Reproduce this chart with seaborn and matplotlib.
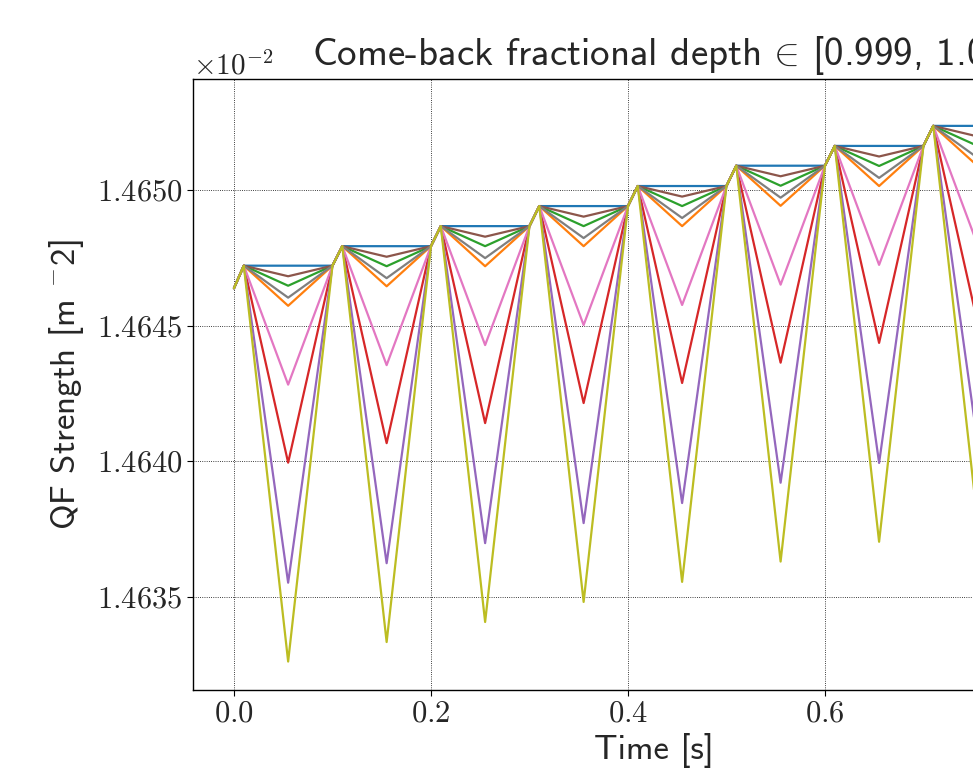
import numpy as np
import pandas as pd
import matplotlib
matplotlib.use("Agg")
import matplotlib.pyplot as plt
import seaborn as sns
from matplotlib.ticker import ScalarFormatter

# ---------------- data (values in units of 1e-2 m^-2) ----------------
times = [0.0, 0.01, 0.055, 0.1, 0.11, 0.155, 0.2, 0.21, 0.255, 0.3, 0.31, 0.355,
         0.4, 0.41, 0.455, 0.5, 0.51, 0.555, 0.6, 0.61, 0.655, 0.7, 0.71, 0.755,
         0.8, 0.81, 0.855, 0.9]
start_value = 1.464638
levels = [1.464721, 1.464793, 1.464867, 1.464941, 1.465015, 1.465090, 1.465163,
          1.465237, 1.465311]

series_names = ["1.00000", "0.99990", "0.99995", "0.99950", "0.99920",
                "0.99997", "0.99970", "0.99992", "0.99900"]
series_colors = ["#1f77b4", "#ff7f0e", "#2ca02c", "#d62728", "#9467bd",
                 "#8c564b", "#e377c2", "#7f7f7f", "#bcbd22"]

dip_blue   = [1.464721, 1.464793, 1.464867, 1.464941, 1.465015, 1.465090, 1.465163, 1.465237, 1.465311]
dip_orange = [1.464573, 1.464645, 1.464719, 1.464793, 1.464867, 1.464942, 1.465015, 1.465089, 1.465163]
dip_green  = [1.464647, 1.464719, 1.464793, 1.464867, 1.464941, 1.465016, 1.465089, 1.465163, 1.465237]
dip_red    = [1.463994, 1.464066, 1.464140, 1.464214, 1.464288, 1.464363, 1.464436, 1.464510, 1.464584]
dip_purple = [1.463551, 1.463623, 1.463697, 1.463771, 1.463845, 1.463920, 1.463993, 1.464067, 1.464141]
dip_brown  = [1.464682, 1.464754, 1.464828, 1.464902, 1.464976, 1.465051, 1.465124, 1.465198, 1.465272]
dip_pink   = [1.464282, 1.464354, 1.464428, 1.464502, 1.464576, 1.464651, 1.464724, 1.464798, 1.464872]
dip_gray   = [1.464603, 1.464675, 1.464749, 1.464823, 1.464897, 1.464972, 1.465045, 1.465119, 1.465193]
dip_olive  = [1.463260, 1.463332, 1.463406, 1.463480, 1.463554, 1.463629, 1.463702, 1.463776, 1.463850]

all_dips = [dip_blue, dip_orange, dip_green, dip_red, dip_purple,
            dip_brown, dip_pink, dip_gray, dip_olive]

x_ticks = [0.0, 0.2, 0.4, 0.6]
y_ticks = [1.4635, 1.4640, 1.4645, 1.4650]

# ---------------- build long table ----------------
rows = []
for name, dips in zip(series_names, all_dips):
    vals = [start_value]
    for lvl, d in zip(levels, dips):
        vals += [lvl, d, lvl]
    for t, v in zip(times, vals):
        rows.append({"t": t, "v": v * 1e-2, "depth": name})
df = pd.DataFrame(rows)

# ---------------- style ----------------
sns.set_style("white")
plt.rcParams["font.family"] = ["cmr10"]
plt.rcParams["mathtext.fontset"] = "cm"
plt.rcParams["axes.unicode_minus"] = False
plt.rcParams["axes.formatter.use_mathtext"] = True

fig = plt.figure(figsize=(9.73, 7.73), dpi=100)
W, H = 973, 773
ax_left, ax_right, ax_top, ax_bottom = 193, 1114, 79, 690
ax = fig.add_axes([ax_left / W, (H - ax_bottom) / H,
                   (ax_right - ax_left) / W, (ax_bottom - ax_top) / H])

sns.lineplot(data=df, x="t", y="v", hue="depth", hue_order=series_names,
             palette=dict(zip(series_names, series_colors)), legend=False,
             estimator=None, sort=False, linewidth=1.6, ax=ax)

ax.set_xlim(-0.0416, 0.8935)
ax.set_ylim(0.01463155, 0.01465410)
ax.set_xticks(x_ticks)
ax.set_yticks([v * 1e-2 for v in y_ticks])

fmt = ScalarFormatter(useMathText=True, useOffset=False)
fmt.set_powerlimits((0, 0))
ax.yaxis.set_major_formatter(fmt)
ax.yaxis.get_offset_text().set_fontsize(21)

ax.grid(True, color="black", linestyle=":", linewidth=0.6)
for s in ax.spines.values():
    s.set_color("black")
    s.set_linewidth(1.0)
ax.tick_params(axis="both", labelsize=22, direction="out", length=4, width=0.8,
               color="black", left=True, bottom=True)

ax.set_xlabel("Time [s]", fontfamily="cmss10", fontsize=25, labelpad=4)
ax.set_ylabel("QF Strength [m $^{-}$2]", fontfamily="cmss10", fontsize=25,
              labelpad=8)
ax.set_title("Come-back fractional depth$\\,\\in\\,$[0.999, 1.0]",
             fontfamily="cmss10", fontsize=28, pad=10)

fig.savefig("out.png", dpi=100)
